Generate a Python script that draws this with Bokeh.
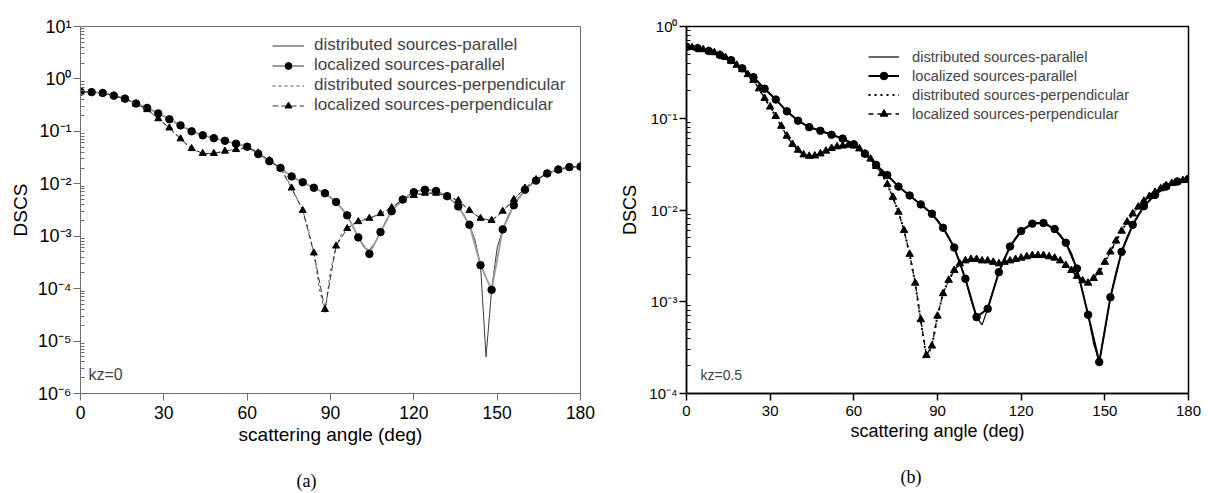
from bokeh.plotting import figure
from bokeh.models import FixedTicker, Legend, LegendItem, Label, Title
from bokeh.layouts import row
from bokeh.embed import file_html
from bokeh.resources import INLINE

# ---------------- data ----------------
angle_2 = list(range(0, 181, 2))
angle_4 = list(range(0, 181, 4))

# panel (a) kz=0
a_dist_par = [0.57, 0.57, 0.56, 0.55, 0.54, 0.51, 0.48, 0.45, 0.42, 0.38,
              0.34, 0.31, 0.28, 0.25, 0.22, 0.195, 0.17, 0.15, 0.13, 0.115,
              0.10, 0.091, 0.084, 0.079, 0.074, 0.070, 0.066, 0.062, 0.058, 0.055,
              0.051, 0.044, 0.037, 0.032, 0.027, 0.023, 0.020, 0.0165, 0.0138, 0.012,
              0.0107, 0.0095, 0.0084, 0.0075, 0.0066, 0.0056, 0.0045, 0.0035, 0.0025, 0.0016,
              0.00095, 0.00062, 0.00054, 0.00075, 0.0012, 0.0020, 0.0030, 0.0040, 0.0050, 0.0060,
              0.0069, 0.0075, 0.0077, 0.0076, 0.0073, 0.0066, 0.0058, 0.0048, 0.0037, 0.0026,
              0.00166, 0.00085, 0.00028, 0.000005, 0.000095, 0.00060, 0.00135, 0.0025, 0.0039, 0.0057,
              0.0077, 0.0096, 0.0115, 0.0137, 0.0157, 0.0173, 0.0187, 0.0199, 0.0208, 0.0211,
              0.0213]
a_loc_par = [0.57, 0.56, 0.54, 0.48, 0.42, 0.34, 0.28, 0.22, 0.17, 0.13,
             0.10, 0.084, 0.074, 0.066, 0.058, 0.051, 0.037, 0.027, 0.020, 0.0138,
             0.0107, 0.0084, 0.0066, 0.0045, 0.0025, 0.00095, 0.00046, 0.0012, 0.0030, 0.0050,
             0.0069, 0.0077, 0.0073, 0.0058, 0.0037, 0.00166, 0.00028, 0.000095, 0.00135, 0.0039,
             0.0077, 0.0115, 0.0157, 0.0187, 0.0208, 0.0213]
a_dist_perp = [0.57, 0.57, 0.56, 0.55, 0.54, 0.51, 0.48, 0.45, 0.42, 0.37,
               0.33, 0.30, 0.26, 0.215, 0.174, 0.143, 0.116, 0.092, 0.072, 0.057,
               0.047, 0.041, 0.038, 0.037, 0.038, 0.040, 0.042, 0.044, 0.045, 0.047,
               0.049, 0.045, 0.039, 0.033, 0.028, 0.024, 0.0196, 0.0135, 0.0083, 0.0052,
               0.0031, 0.0014, 0.00048, 0.00010, 0.000035, 0.00022, 0.00065, 0.0011, 0.0014, 0.0017,
               0.0019, 0.0021, 0.0022, 0.0024, 0.0027, 0.0031, 0.0035, 0.0042, 0.0050, 0.0055,
               0.0060, 0.0064, 0.0066, 0.0067, 0.0066, 0.0063, 0.0058, 0.0053, 0.0048, 0.0039,
               0.0031, 0.0026, 0.0022, 0.0020, 0.0020, 0.0024, 0.0030, 0.0039, 0.0050, 0.0065,
               0.0083, 0.0100, 0.012, 0.0138, 0.0157, 0.0173, 0.0187, 0.0199, 0.0208, 0.0211,
               0.0213]
a_loc_perp = [0.57, 0.56, 0.54, 0.48, 0.42, 0.33, 0.26, 0.174, 0.116, 0.072,
              0.047, 0.038, 0.038, 0.042, 0.045, 0.050, 0.039, 0.028, 0.0196, 0.0083,
              0.0031, 0.00048, 0.00004, 0.00065, 0.0014, 0.0019, 0.0022, 0.0027, 0.0035, 0.0050,
              0.0060, 0.0066, 0.0066, 0.0058, 0.0048, 0.0031, 0.0022, 0.0020, 0.0030, 0.0050,
              0.0083, 0.012, 0.0157, 0.0187, 0.0208, 0.0213]

# panel (b) kz=0.5
b_dist_par = [0.60, 0.59, 0.58, 0.56, 0.54, 0.52, 0.49, 0.46, 0.43, 0.39,
              0.35, 0.31, 0.28, 0.245, 0.21, 0.185, 0.16, 0.137, 0.119, 0.105,
              0.094, 0.086, 0.080, 0.076, 0.073, 0.069, 0.066, 0.063, 0.060, 0.056,
              0.052, 0.047, 0.041, 0.036, 0.031, 0.027, 0.024, 0.021, 0.018, 0.016,
              0.0144, 0.0129, 0.0115, 0.0103, 0.0091, 0.0078, 0.0064, 0.0051, 0.0039, 0.0027,
              0.00178, 0.00105, 0.00068, 0.00056, 0.00084, 0.00135, 0.0021, 0.0030, 0.0040, 0.0050,
              0.0059, 0.0066, 0.0071, 0.0073, 0.0072, 0.0068, 0.0062, 0.0054, 0.0044, 0.0034,
              0.0023, 0.0013, 0.00072, 0.00035, 0.00022, 0.00048, 0.00112, 0.0021, 0.0035, 0.0051,
              0.0069, 0.0089, 0.011, 0.0128, 0.0146, 0.0164, 0.018, 0.0193, 0.0204, 0.0212,
              0.0218]
b_loc_par = [0.60, 0.58, 0.54, 0.49, 0.43, 0.35, 0.28, 0.21, 0.16, 0.119,
             0.094, 0.080, 0.073, 0.066, 0.060, 0.052, 0.041, 0.031, 0.024, 0.018,
             0.0144, 0.0115, 0.0091, 0.0064, 0.0039, 0.00178, 0.00068, 0.00084, 0.0021, 0.0040,
             0.0059, 0.0071, 0.0072, 0.0062, 0.0044, 0.0023, 0.00072, 0.00022, 0.00112, 0.0035,
             0.0069, 0.011, 0.0146, 0.018, 0.0204, 0.0218]
b_dist_perp = [0.60, 0.59, 0.58, 0.56, 0.54, 0.52, 0.49, 0.46, 0.42, 0.38,
               0.34, 0.30, 0.26, 0.21, 0.165, 0.133, 0.105, 0.082, 0.064, 0.052,
               0.045, 0.040, 0.0386, 0.039, 0.041, 0.044, 0.047, 0.049, 0.050, 0.051,
               0.050, 0.0465, 0.041, 0.036, 0.030, 0.025, 0.019, 0.0138, 0.0095, 0.0060,
               0.0033, 0.0016, 0.00062, 0.00025, 0.00033, 0.00070, 0.00123, 0.00172, 0.0022, 0.0026,
               0.0028, 0.0029, 0.0029, 0.0028, 0.0028, 0.0027, 0.0026, 0.0027, 0.0028, 0.0029,
               0.0030, 0.0031, 0.0032, 0.0032, 0.0032, 0.0031, 0.0030, 0.0028, 0.0025, 0.0022,
               0.0019, 0.0017, 0.0016, 0.0018, 0.0021, 0.0027, 0.0035, 0.0046, 0.0059, 0.0074,
               0.0091, 0.0108, 0.0125, 0.0141, 0.0156, 0.0171, 0.0185, 0.0195, 0.0203, 0.0210,
               0.0215]
b_loc_perp = [0.60, 0.59, 0.58, 0.56, 0.54, 0.52, 0.49, 0.46, 0.42, 0.38,
              0.34, 0.30, 0.26, 0.21, 0.165, 0.133, 0.105, 0.082, 0.064, 0.052,
              0.045, 0.040, 0.0386, 0.039, 0.041, 0.044, 0.047, 0.049, 0.050, 0.051,
              0.050, 0.0465, 0.041, 0.036, 0.030, 0.025, 0.019, 0.0138, 0.0095, 0.0060,
              0.0033, 0.0016, 0.00064, 0.00026, 0.00033, 0.00070, 0.00123, 0.00172, 0.0022, 0.0026,
              0.0028, 0.0029, 0.0029, 0.0028, 0.0028, 0.0027, 0.0026, 0.0027, 0.0028, 0.0029,
              0.0030, 0.0031, 0.0032, 0.0032, 0.0032, 0.0031, 0.0030, 0.0028, 0.0025, 0.0022,
              0.0019, 0.0017, 0.0016, 0.0018, 0.0021, 0.0027, 0.0035, 0.0046, 0.0059, 0.0074,
              0.0091, 0.0108, 0.0125, 0.0141, 0.0156, 0.0171, 0.0185, 0.0195, 0.0203, 0.0210,
              0.0215]

x_ticks = [0, 30, 60, 90, 120, 150, 180]
a_decades = [-6, -5, -4, -3, -2, -1, 0, 1]
b_decades = [-4, -3, -2, -1, 0]
labels_series = ["distributed sources-parallel", "localized sources-parallel",
                 "distributed sources-perpendicular", "localized sources-perpendicular"]
x_label = "scattering angle (deg)"
y_label = "DSCS"
captions = ["(a)", "(b)"]
kz_texts = ["kz=0", "kz=0.5"]

SUP = str.maketrans("0123456789-", "\u2070\u00b9\u00b2\u00b3\u2074\u2075\u2076\u2077\u2078\u2079\u207b")
FONT = "Liberation Sans"


def style_axes(p, decades, col, lw, xtick_fs, ytick_fs, lab_fs, y_std, lab_std):
    ticks = [float(10.0 ** k) for k in decades]
    minors = [float(m * 10.0 ** k) for k in decades[:-1] for m in range(2, 10)]
    p.yaxis.ticker = FixedTicker(ticks=ticks, minor_ticks=minors)
    p.yaxis.major_label_overrides = {float(10.0 ** k): "10" + str(k).translate(SUP) for k in decades}
    p.xaxis.ticker = FixedTicker(ticks=x_ticks)
    p.xgrid.visible = False
    p.ygrid.visible = False
    for ax in (p.xaxis[0], p.yaxis[0]):
        ax.axis_line_color = col
        ax.axis_line_width = lw
        ax.major_tick_line_color = col
        ax.major_tick_line_width = lw
        ax.minor_tick_line_color = col
        ax.major_label_text_font = FONT
        ax.major_label_text_color = "black"
        ax.axis_label_text_font = FONT
        ax.axis_label_text_font_size = lab_fs
        ax.axis_label_text_font_style = "normal"
        ax.axis_label_text_color = "black"
    p.xaxis.major_label_text_font_size = xtick_fs
    p.yaxis.major_label_text_font_size = ytick_fs
    p.xaxis.minor_tick_line_color = None
    p.xaxis.major_tick_in = 0
    p.xaxis.major_tick_out = 7
    p.xaxis.major_label_standoff = 5
    p.xaxis.axis_label_standoff = 2
    p.yaxis.major_tick_in = 0
    p.yaxis.major_tick_out = 7
    p.yaxis.minor_tick_in = 4
    p.yaxis.minor_tick_out = 0
    p.yaxis.major_label_standoff = y_std
    p.yaxis.axis_label_standoff = lab_std
    p.xaxis.axis_label = x_label
    p.yaxis.axis_label = y_label
    p.outline_line_color = col
    p.outline_line_width = lw


def add_caption(p, text, offset):
    # small blank spacer first, then the caption, stacked below the x axis
    p.add_layout(Title(text=" ", text_font_size="10px", standoff=8), "below")
    p.add_layout(Title(text=text, align="left", offset=offset, standoff=0,
                       text_font="Liberation Serif", text_font_size="18px",
                       text_font_style="normal", text_color="black"), "below")


# ---------------- panel (a) ----------------
pa = figure(width=608, height=492, x_range=(0, 180), y_range=(1e-6, 10),
            y_axis_type="log", output_backend="svg", toolbar_location=None,
            min_border_left=80, min_border_right=28, min_border_top=26, min_border_bottom=99)
pa.background_fill_color = "white"
style_axes(pa, a_decades, "#6e6e6e", 1, "17.5px", "18px", "19px", 2, 4)

ra1 = pa.line(angle_2, a_dist_par, line_color="#3a3a3a", line_width=1)
ra2l = pa.line(angle_4, a_loc_par, line_color="#9c9c9c", line_width=1.8)
ra2s = pa.scatter(angle_4, a_loc_par, marker="circle", size=7.5, fill_color="black", line_color="black")
ra3 = pa.line(angle_2, a_dist_perp, line_color="#555555", line_width=1, line_dash="3 3")
ra4l = pa.line(angle_4, a_loc_perp, line_color="#333333", line_width=1, line_dash="6 3")
ra4s = pa.scatter(angle_4, a_loc_perp, marker="triangle", size=7, fill_color="black", line_color="black")

leg_a = Legend(items=[LegendItem(label=labels_series[0], renderers=[ra1]),
                      LegendItem(label=labels_series[1], renderers=[ra2l, ra2s]),
                      LegendItem(label=labels_series[2], renderers=[ra3]),
                      LegendItem(label=labels_series[3], renderers=[ra4l, ra4s])],
               location=(192, 278), glyph_width=32, glyph_height=17, label_height=17,
               label_standoff=10, spacing=0, padding=0, margin=0,
               label_text_font=FONT, label_text_font_size="17px",
               border_line_color=None, background_fill_alpha=0)
pa.add_layout(leg_a)
pa.add_layout(Label(x=8, y=11, x_units="screen", y_units="screen", text=kz_texts[0],
                    text_font=FONT, text_font_size="16px", text_baseline="bottom"))
add_caption(pa, captions[0], 216)

# ---------------- panel (b) ----------------
pb = figure(width=599, height=492, x_range=(0, 180), y_range=(1e-4, 1),
            y_axis_type="log", output_backend="svg", toolbar_location=None,
            min_border_left=78, min_border_right=19, min_border_top=23, min_border_bottom=99)
pb.background_fill_color = "white"
style_axes(pb, b_decades, "black", 1.5, "15px", "15px", "18px", 2, 6)

rb1 = pb.line(angle_2, b_dist_par, line_color="black", line_width=1.2)
rb2l = pb.line(angle_4, b_loc_par, line_color="black", line_width=2)
rb2s = pb.scatter(angle_4, b_loc_par, marker="circle", size=7.5, fill_color="black", line_color="black")
rb3 = pb.line(angle_2, b_dist_perp, line_color="black", line_width=2, line_dash="2 4")
rb4l = pb.line(angle_2, b_loc_perp, line_color="black", line_width=1.3, line_dash="5 4")
rb4s = pb.scatter(angle_2, b_loc_perp, marker="triangle", size=7.5, fill_color="black", line_color="black")

leg_b = Legend(items=[LegendItem(label=labels_series[0], renderers=[rb1]),
                      LegendItem(label=labels_series[1], renderers=[rb2l, rb2s]),
                      LegendItem(label=labels_series[2], renderers=[rb3]),
                      LegendItem(label=labels_series[3], renderers=[rb4l, rb4s])],
               location=(182, 270), glyph_width=31, glyph_height=19, label_height=19,
               label_standoff=13, spacing=0, padding=0, margin=0,
               label_text_font=FONT, label_text_font_size="14.7px",
               border_line_color=None, background_fill_alpha=0)
pb.add_layout(leg_b)
pb.add_layout(Label(x=14, y=11, x_units="screen", y_units="screen", text=kz_texts[1],
                    text_font=FONT, text_font_size="14px", text_baseline="bottom"))
add_caption(pb, captions[1], 214)

layout = row(pa, pb)
open("out.html", "w").write(file_html(layout, INLINE))
